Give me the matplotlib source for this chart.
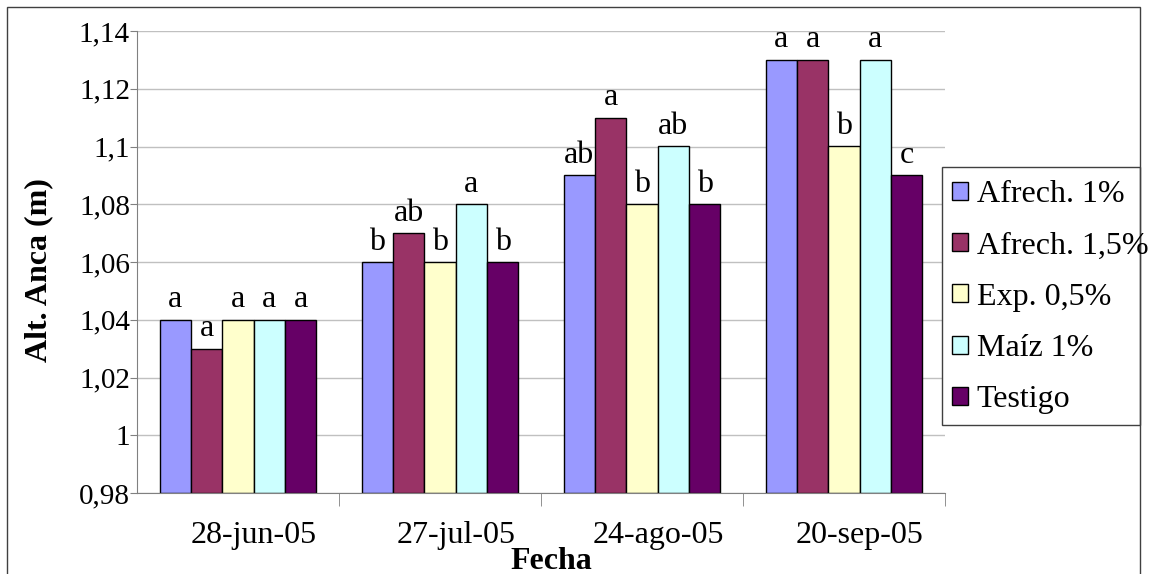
import matplotlib
matplotlib.use("Agg")
import matplotlib.pyplot as plt
import matplotlib.patches as mpatches
import matplotlib.transforms as mtransforms
from matplotlib.ticker import FuncFormatter, FixedLocator
import numpy as np

plt.rcParams['font.family'] = ['Liberation Serif', 'DejaVu Serif']

fechas = ["28-jun-05", "27-jul-05", "24-ago-05", "20-sep-05"]
tratamientos = ["Afrech. 1%", "Afrech. 1,5%", "Exp. 0,5%", "Maíz 1%", "Testigo"]
colores = ["#9999FF", "#993366", "#FFFFCC", "#CCFFFF", "#660066"]

afrech_1 = [1.04, 1.06, 1.09, 1.13]
afrech_15 = [1.03, 1.07, 1.11, 1.13]
exp_05 = [1.04, 1.06, 1.08, 1.10]
maiz_1 = [1.04, 1.08, 1.10, 1.13]
testigo = [1.04, 1.06, 1.08, 1.09]
valores = [afrech_1, afrech_15, exp_05, maiz_1, testigo]

letras_afrech_1 = ["a", "b", "ab", "a"]
letras_afrech_15 = ["a", "ab", "a", "a"]
letras_exp_05 = ["a", "b", "b", "b"]
letras_maiz_1 = ["a", "a", "ab", "a"]
letras_testigo = ["a", "b", "b", "c"]
letras = [letras_afrech_1, letras_afrech_15, letras_exp_05, letras_maiz_1, letras_testigo]

fs = 23
W, H = 1150, 574
fig = plt.figure(figsize=(W / 100, H / 100), dpi=100)
ax = fig.add_axes([137 / W, 1 - 493 / H, (945 - 137) / W, (493 - 31) / H])

x = np.arange(len(fechas))
w = 0.155
base = 0.98
for i, (serie, col) in enumerate(zip(valores, colores)):
    pos = x + (i - 2) * w
    alturas = np.array(serie) - base
    ax.bar(pos, alturas, w, bottom=base, color=col, edgecolor="black",
           linewidth=1, label=tratamientos[i], zorder=3)
    for px, v, t in zip(pos, serie, letras[i]):
        ax.annotate(t, (px, v), xytext=(0, 9), textcoords="offset points",
                    ha="center", va="baseline", fontsize=fs)

ax.set_xlim(-0.5, 3.5)
ax.set_ylim(0.98, 1.14)
ax.set_yticks(np.arange(0.98, 1.1401, 0.02))
ax.yaxis.set_major_formatter(FuncFormatter(lambda v, p: ("%g" % round(v, 2)).replace(".", ",")))
ax.set_xticks(x)
ax.set_xticklabels(fechas, fontsize=fs)
ax.tick_params(axis="x", which="major", length=0, pad=20)
# Excel puts the date labels a bit right of the group centre
shift = mtransforms.ScaledTranslation(16 / 100, 0, fig.dpi_scale_trans)
for lab in ax.get_xticklabels():
    lab.set_transform(lab.get_transform() + shift)
ax.xaxis.set_minor_locator(FixedLocator([0.5, 1.5, 2.5, 3.5]))
ax.tick_params(axis="x", which="minor", length=9, color="#808080", direction="out")
ax.tick_params(axis="y", labelsize=21, length=5, color="#808080", pad=0)
ax.grid(axis="y", color="#c0c0c0", linewidth=1, zorder=0)
ax.set_axisbelow(True)
for s in ["top", "right"]:
    ax.spines[s].set_visible(False)
for s in ["left", "bottom"]:
    ax.spines[s].set_color("#808080")
    ax.spines[s].set_zorder(4)

fig.text(39 / W, 1 - 270 / H, "Alt. Anca (m)", fontsize=fs, fontweight="bold",
         rotation=90, ha="center", va="center")
fig.text(551 / W, 1 - 569 / H, "Fecha", fontsize=fs, fontweight="bold",
         ha="center", va="baseline")

# outer chart frame
fig.patches.append(mpatches.Rectangle((7 / W, -0.05), (1140 - 7) / W, 1.05 - 7 / H,
                                      transform=fig.transFigure, fill=False,
                                      edgecolor="#404040", linewidth=1))

leg = fig.legend(loc="upper left", bbox_to_anchor=(952 / W, 1 - 180 / H),
                 fontsize=fs, frameon=False,
                 handlelength=0.5, handleheight=0.5, handletextpad=0.28,
                 labelspacing=0.7, borderpad=0, borderaxespad=0)
# legend box drawn by hand so the long label can run over it like in Excel
fig.patches.append(mpatches.Rectangle((942 / W, 1 - 425 / H), (1140 - 942) / W, (425 - 167) / H,
                                      transform=fig.transFigure, facecolor="white",
                                      edgecolor="#404040", linewidth=1, zorder=0))

fig.savefig("out.png", dpi=100)
